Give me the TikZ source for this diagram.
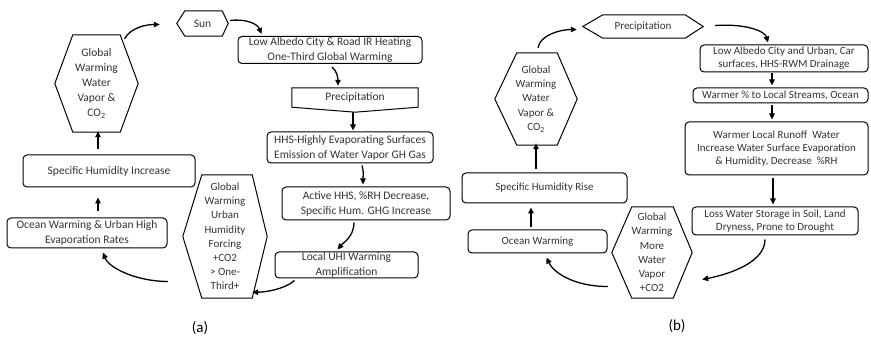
\documentclass[tikz,border=0pt]{standalone}
\usepackage{fontspec}
\setmainfont{Carlito}
\usetikzlibrary{arrows.meta,calc}

% outline of a flat-topped hexagon around a node: #2 = left inset, #3 = right inset
\newcommand\hexoutline[3]{%
  \draw[outline] (#1.west) -- ($(#1.north west)+(#2,0)$) -- ($(#1.north east)+(-#3,0)$)
    -- (#1.east) -- ($(#1.south east)+(-#3,0)$) -- ($(#1.south west)+(#2,0)$) -- cycle;}

\begin{document}
\begin{tikzpicture}[x=1pt,y=-1pt,
  every node/.style={text=black!80},
  box/.style={draw=black, line width=1pt, rounded corners=4pt, align=center, inner sep=0pt},
  plain/.style={align=center, inner sep=0pt},
  fa/.style={font=\fontsize{11.5}{15}\selectfont},
  fb/.style={font=\fontsize{11}{12.8}\selectfont},
  fh/.style={font=\fontsize{11}{14.2}\selectfont},
  outline/.style={draw=black, line width=1pt, line join=miter},
  arr/.style={draw=black, line width=1.3pt, -{Triangle[length=6pt,width=5.5pt]}},
  caption/.style={font=\fontsize{15}{17}\selectfont, text=black},
]
\useasboundingbox (0,0) rectangle (871,339);

% ---------------- panel (a) ----------------
\node[plain,fa,minimum width=51pt,minimum height=25pt] (sun) at (202.5,23.5) {Sun};
\node[box,fa,minimum width=184pt,minimum height=27pt] (lowA) at (330,50)
  {Low Albedo City \& Road IR Heating\\One-Third Global Warming};
\node[plain,fa,minimum width=126pt,minimum height=19pt] (precA) at (355,97.5) {Precipitation};
\node[box,fa,minimum width=166pt,minimum height=31pt] (hhs) at (350,147.5)
  {HHS-Highly Evaporating Surfaces\\Emission of Water Vapor GH Gas};
\node[box,fa,minimum width=168pt,minimum height=33pt] (act) at (366,203.5)
  {Active HHS, \%RH Decrease,\\Specific Hum. GHG Increase};
\node[box,fa,minimum width=143pt,minimum height=26pt] (uhi) at (346.5,265)
  {Local UHI Warming\\Amplification};
\node[plain,fh,minimum width=84pt,minimum height=123pt] (hexU) at (225,236.5)
  {Global\\Warming\\Urban\\Humidity\\Forcing\\+CO2\\> One-\\Third+};
\node[box,fa,minimum width=160pt,minimum height=30pt] (oceanA) at (87,233)
  {Ocean Warming \& Urban High\\Evaporation Rates};
\node[box,fa,minimum width=172pt,minimum height=32pt] (specA) at (109,171)
  {Specific Humidity Increase};
\node[plain,fa,minimum width=83pt,minimum height=97pt] (hexA) at (96.5,83.5)
  {Global\\Warming\\Water\\Vapor \&\\CO\textsubscript{2}};

\hexoutline{sun}{8}{6}
\hexoutline{hexA}{18}{18}
\hexoutline{hexU}{19}{15}
% precipitation marker pointing down
\draw[outline] (precA.north west) -- (precA.north east) -- (precA.south east)
  -- ($(precA.south)+(0,5)$) -- (precA.south west) -- cycle;

\draw[arr] ($(hexA.north)+(28,4)$) .. controls +(6,-11) and +(-14,0) .. ($(sun.west)+(-17,1)$);
\draw[arr] ($(sun.east)+(2,-3)$) .. controls +(16,-2) and +(-4,-10) .. ($(lowA.north west)+(24,-2)$);
\draw[arr] ($(lowA.south)+(2,3)$) .. controls +(5,4) and +(0,-8) .. ($(precA.north)+(-17,-2)$);
\draw[arr] ($(precA.south)+(-2,5)$) -- ($(hhs.north)+(3,-1)$);
\draw[arr] ($(hhs.south)+(12,2)$) .. controls +(2,6) and +(0,-8) .. ($(act.north)+(-3,-2)$);
\draw[arr] ($(act.south)+(-12,2)$) .. controls +(0,14) and +(6,-7) .. ($(uhi.north)+(-9,-2)$);
\draw[arr] ($(uhi.south west)+(20,2)$) .. controls +(-10,9) and +(12,0) .. ($(hexU.south east)+(-15,-6)$);
\draw[arr] ($(hexU.west)+(-15,45)$) .. controls +(-30,0) and +(6,16) .. ($(oceanA.south)+(16,4)$);
\draw[arr] ($(oceanA.north)+(11,-6)$) -- ($(specA.south)+(-11,10)$);
\draw[arr] ($(specA.north)+(-11,-5)$) -- ($(hexA.south)+(1.5,-1)$);

\node[caption] (capA) at (200,328) {(a)};

% ---------------- panel (b) ----------------
\node[plain,fh,minimum width=82pt,minimum height=92pt] (hexB) at (536,99)
  {Global\\Warming\\Water\\Vapor \&\\CO\textsubscript{2}};
\node[plain,fb,minimum width=120pt,minimum height=23pt] (precB) at (643,26.5) {Precipitation};
\node[box,fb,minimum width=168pt,minimum height=27pt] (lowB) at (784,58.5)
  {Low Albedo City and Urban, Car\\surfaces, HHS-RWM Drainage};
\node[box,fb,minimum width=175pt,minimum height=15pt] (warm) at (780.5,95.5)
  {Warmer \% to Local Streams, Ocean};
\node[box,fb,minimum width=183pt,minimum height=53pt] (runoff) at (776.5,148.5)
  {Warmer Local Runoff\ \ Water\\Increase Water Surface Evaporation\\\& Humidity, Decrease\ \ \%RH};
\node[box,fb,minimum width=166pt,minimum height=28pt] (loss) at (775,221)
  {Loss Water Storage in Soil, Land\\Dryness, Prone to Drought};
\node[plain,fh,minimum width=80pt,minimum height=91pt] (hexM) at (652,252.5)
  {Global\\Warming\\More\\Water\\Vapor\\+CO2};
\node[box,fb,minimum width=139pt,minimum height=23pt] (oceanB) at (537.5,241.5) {Ocean Warming};
\node[box,fb,minimum width=165pt,minimum height=30pt] (specB) at (544.5,188) {Specific Humidity Rise};

\hexoutline{hexB}{22}{20}
\hexoutline{precB}{20}{18}
\hexoutline{hexM}{20}{19}

\draw[arr] ($(hexB.north)+(2,-5)$) .. controls +(2,-13) and +(-16,0) .. ($(precB.west)+(-6,3)$);
\draw[arr] ($(precB.east)+(12,-1)$) .. controls +(32,-2) and +(-3,-11) .. ($(lowB.north)+(-16,-2)$);
\draw[arr] ($(lowB.south)+(-12,1)$) -- ($(warm.north)+(-8.5,-2)$);
\draw[arr] ($(warm.south)+(-8.5,2)$) -- ($(runoff.north)+(-4.5,-2)$);
\draw[arr] ($(runoff.south)+(-3.5,3)$) -- ($(loss.north)+(-2,-2)$);
\draw[arr] ($(loss.south)+(-10,4)$) .. controls +(0,22) and +(30,-6) .. ($(hexM.east)+(10,27)$);
\draw[arr] ($(hexM.west)+(-4,34)$) .. controls +(-34,0) and +(7,15) .. ($(oceanB.south)+(9,4)$);
\draw[arr] ($(oceanB.north)+(-6.5,-2)$) -- ($(specB.south)+(-13.5,4)$);
\draw[arr] ($(specB.north)+(-8.5,-3)$) -- ($(hexB.south)+(0,-2)$);

\node[caption] (capB) at (677,326) {(b)};
\end{tikzpicture}
\end{document}
